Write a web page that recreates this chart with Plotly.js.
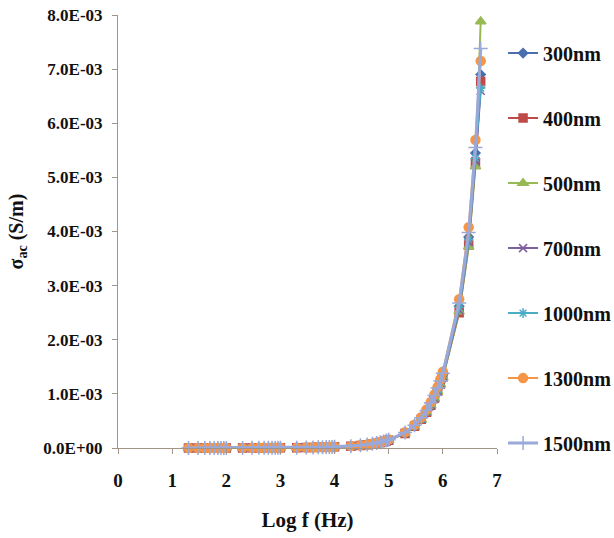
<!DOCTYPE html>
<html>
<head>
<meta charset="utf-8">
<script src="https://cdn.plot.ly/plotly-3.0.1.min.js"></script>
<style>html,body{margin:0;padding:0;background:#fff;}</style>
</head>
<body>
<div id="chart" style="width:614px;height:538px;"></div>
<script>
// log10 of frequency (Hz): 20..100, 200..1k, 2k..10k, 20k..100k, 200k..1M, 2M..5M
const logF = [1.301,1.477,1.602,1.699,1.778,1.845,1.903,1.954,2.000,
              2.301,2.477,2.602,2.699,2.778,2.845,2.903,2.954,3.000,
              3.301,3.477,3.602,3.699,3.778,3.845,3.903,3.954,4.000,
              4.301,4.477,4.602,4.699,4.778,4.845,4.903,4.954,5.000,
              5.301,5.477,5.602,5.699,5.778,5.845,5.903,5.954,6.000,
              6.301,6.477,6.602,6.699];

const sigma300 = [1.0e-6,1.1e-6,1.2e-6,1.3e-6,1.3e-6,1.4e-6,1.5e-6,1.6e-6,1.7e-6,
                  2.1e-6,2.5e-6,2.8e-6,3.1e-6,3.4e-6,3.7e-6,4.0e-6,4.3e-6,4.6e-6,
                  6.8e-6,8.7e-6,1.06e-5,1.25e-5,1.44e-5,1.63e-5,1.82e-5,2.0e-5,2.2e-5,
                  3.4e-5,4.8e-5,6.2e-5,7.7e-5,9.1e-5,1.05e-4,1.2e-4,1.34e-4,1.49e-4,
                  2.8e-4,4.1e-4,5.5e-4,6.8e-4,8.2e-4,9.5e-4,1.09e-3,1.22e-3,1.36e-3,
                  2.62e-3,3.90e-3,5.45e-3,6.90e-3];
const sigma400 = [0.9e-6,1.0e-6,1.1e-6,1.2e-6,1.3e-6,1.4e-6,1.5e-6,1.5e-6,1.6e-6,
                  2.0e-6,2.4e-6,2.7e-6,3.0e-6,3.3e-6,3.6e-6,3.9e-6,4.2e-6,4.4e-6,
                  6.5e-6,8.4e-6,1.02e-5,1.2e-5,1.39e-5,1.57e-5,1.76e-5,1.94e-5,2.13e-5,
                  3.3e-5,4.6e-5,6.0e-5,7.4e-5,8.8e-5,1.02e-4,1.16e-4,1.3e-4,1.44e-4,
                  2.7e-4,4.0e-4,5.3e-4,6.6e-4,7.9e-4,9.2e-4,1.05e-3,1.18e-3,1.31e-3,
                  2.50e-3,3.75e-3,5.27e-3,6.77e-3];
const sigma500 = [0.9e-6,1.0e-6,1.1e-6,1.2e-6,1.2e-6,1.3e-6,1.4e-6,1.5e-6,1.6e-6,
                  2.0e-6,2.3e-6,2.6e-6,2.9e-6,3.2e-6,3.5e-6,3.8e-6,4.1e-6,4.4e-6,
                  6.4e-6,8.3e-6,1.0e-5,1.19e-5,1.37e-5,1.55e-5,1.74e-5,1.92e-5,2.1e-5,
                  3.2e-5,4.5e-5,5.9e-5,7.3e-5,8.7e-5,1.0e-4,1.14e-4,1.28e-4,1.42e-4,
                  2.7e-4,3.9e-4,5.2e-4,6.5e-4,7.8e-4,9.1e-4,1.04e-3,1.17e-3,1.30e-3,
                  2.52e-3,3.72e-3,5.20e-3,7.88e-3];
const sigma700 = [1.0e-6,1.0e-6,1.1e-6,1.2e-6,1.3e-6,1.4e-6,1.5e-6,1.6e-6,1.7e-6,
                  2.0e-6,2.4e-6,2.7e-6,3.0e-6,3.3e-6,3.6e-6,3.9e-6,4.2e-6,4.5e-6,
                  6.6e-6,8.5e-6,1.03e-5,1.22e-5,1.4e-5,1.59e-5,1.78e-5,1.96e-5,2.15e-5,
                  3.3e-5,4.7e-5,6.1e-5,7.5e-5,8.9e-5,1.03e-4,1.17e-4,1.31e-4,1.45e-4,
                  2.75e-4,4.05e-4,5.4e-4,6.7e-4,8.0e-4,9.3e-4,1.06e-3,1.19e-3,1.33e-3,
                  2.55e-3,3.80e-3,5.30e-3,6.60e-3];
const sigma1000 = [1.0e-6,1.1e-6,1.2e-6,1.3e-6,1.3e-6,1.4e-6,1.5e-6,1.6e-6,1.7e-6,
                   2.1e-6,2.4e-6,2.8e-6,3.1e-6,3.4e-6,3.7e-6,4.0e-6,4.3e-6,4.6e-6,
                   6.7e-6,8.6e-6,1.05e-5,1.24e-5,1.42e-5,1.61e-5,1.8e-5,1.99e-5,2.18e-5,
                   3.4e-5,4.8e-5,6.2e-5,7.6e-5,9.0e-5,1.04e-4,1.18e-4,1.33e-4,1.47e-4,
                   2.8e-4,4.1e-4,5.45e-4,6.8e-4,8.1e-4,9.4e-4,1.08e-3,1.21e-3,1.35e-3,
                   2.60e-3,3.85e-3,5.35e-3,6.65e-3];
const sigma1300 = [1.0e-6,1.1e-6,1.2e-6,1.3e-6,1.4e-6,1.5e-6,1.6e-6,1.7e-6,1.8e-6,
                   2.2e-6,2.6e-6,3.0e-6,3.3e-6,3.6e-6,3.9e-6,4.2e-6,4.5e-6,4.8e-6,
                   7.0e-6,9.0e-6,1.1e-5,1.3e-5,1.5e-5,1.7e-5,1.9e-5,2.1e-5,2.3e-5,
                   3.5e-5,5.0e-5,6.5e-5,8.0e-5,9.5e-5,1.1e-4,1.25e-4,1.4e-4,1.55e-4,
                   2.9e-4,4.3e-4,5.7e-4,7.1e-4,8.5e-4,9.9e-4,1.13e-3,1.27e-3,1.41e-3,
                   2.75e-3,4.08e-3,5.69e-3,7.15e-3];
const sigma1500 = [1.0e-6,1.1e-6,1.2e-6,1.3e-6,1.4e-6,1.5e-6,1.6e-6,1.6e-6,1.7e-6,
                   2.1e-6,2.5e-6,2.9e-6,3.2e-6,3.5e-6,3.8e-6,4.1e-6,4.4e-6,4.7e-6,
                   6.9e-6,8.8e-6,1.08e-5,1.27e-5,1.47e-5,1.66e-5,1.86e-5,2.05e-5,2.25e-5,
                   3.45e-5,4.9e-5,6.4e-5,7.8e-5,9.3e-5,1.07e-4,1.22e-4,1.37e-4,1.51e-4,
                   2.85e-4,4.2e-4,5.6e-4,6.95e-4,8.3e-4,9.7e-4,1.11e-3,1.24e-3,1.38e-3,
                   2.68e-3,3.98e-3,5.55e-3,7.38e-3];

const seriesNames = ['300nm','400nm','500nm','700nm','1000nm','1300nm','1500nm'];
const seriesData = [sigma300,sigma400,sigma500,sigma700,sigma1000,sigma1300,sigma1500];
const colors = ['#4A6FAE','#BE4B48','#98B954','#7D5FA0','#4AACC5','#F59545','#98A9DA'];
const symbols = ['diamond','square','triangle-up','x-thin-open','asterisk-open','circle','cross-thin-open'];
const sizes = [7,8,9,8,8,9,10];

const yTickVals = [0,0.001,0.002,0.003,0.004,0.005,0.006,0.007,0.008];
const yTickText = ['0.0E+00','1.0E-03','2.0E-03','3.0E-03','4.0E-03','5.0E-03','6.0E-03','7.0E-03','8.0E-03'];

const traces = seriesNames.map((name,i) => ({
  type:'scatter', mode:'lines+markers', name:name,
  x: logF, y: seriesData[i],
  legendgroup: 'g'+i,
  cliponaxis:false,
  line:{color:colors[i], width: i===6 ? 3 : 2},
  marker:{symbol:symbols[i], color:colors[i], size:sizes[i], line:{color:colors[i], width:1.5}}
}));

const font = 'Liberation Serif, Times New Roman, serif';
const axisColor = '#A39488';

const layout = {
  width:614, height:538,
  margin:{l:118, r:117, t:15, b:90, autoexpand:false},
  paper_bgcolor:'#fff', plot_bgcolor:'#fff',
  showlegend:true,
  font:{family:font, color:'#111', size:16},
  xaxis:{
    range:[0,7], dtick:1, tick0:0,
    showgrid:false, zeroline:false,
    showline:true, linecolor:axisColor, linewidth:1,
    ticks:'outside', ticklen:5, tickcolor:axisColor,
    ticklabelstandoff:10,
    tickfont:{family:font, size:19, color:'#111', weight:'bold'},
    title:{text:'<b>Log f (Hz)</b>', font:{family:font, size:21, color:'#111'}, standoff:22}
  },
  yaxis:{
    range:[0,0.008],
    tickmode:'array', tickvals:yTickVals, ticktext:yTickText,
    showgrid:false, zeroline:false,
    showline:true, linecolor:axisColor, linewidth:1,
    ticks:'outside', ticklen:5, tickcolor:axisColor,
    ticklabelstandoff:6,
    tickfont:{family:font, size:17, color:'#111', weight:'bold'},
    title:{text:'<b>σ<sub>ac</sub> (S/m)</b>', font:{family:font, size:20, color:'#111'}, standoff:14}
  },
  legend:{
    x:1.016, xanchor:'left', y:0.957, yanchor:'top',
    tracegroupgap:36,
    font:{family:font, size:20, color:'#111', weight:'bold'},
    bgcolor:'rgba(0,0,0,0)', itemwidth:30
  }
};

Plotly.newPlot('chart', traces, layout, {displayModeBar:false, staticPlot:true});
</script>
</body>
</html>
